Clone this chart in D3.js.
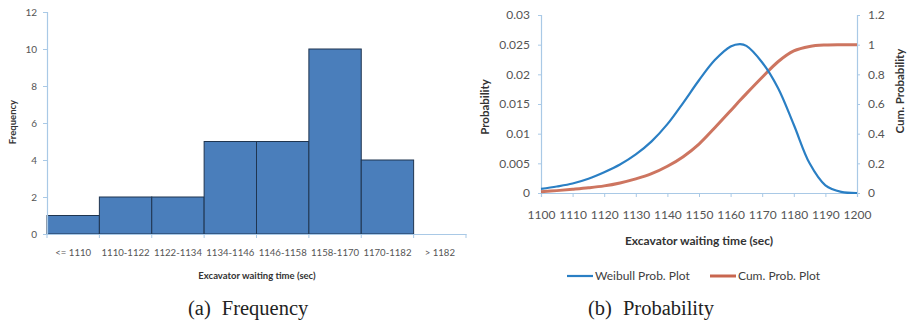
<!DOCTYPE html>
<html>
<head>
<meta charset="utf-8">
<script src="https://cdn.jsdelivr.net/npm/d3@7"></script>
<style>
  body { margin: 0; background: #fff; }
  svg { display: block; }
  .tick text { font-family: Lato, "Open Sans", sans-serif; fill: #555; }
</style>
</head>
<body>
<svg id="fig" width="907" height="322"></svg>
<script>
// (a) histogram data
const binLabels = ['<= 1110', '1110-1122', '1122-1134', '1134-1146', '1146-1158', '1158-1170', '1170-1182', '> 1182'];
const binFreq = [1, 2, 2, 5, 5, 10, 4, 0];
const freqTicks = [0, 2, 4, 6, 8, 10, 12];

// (b) probability curves, every 5 sec
const waitTime = [1100, 1105, 1110, 1115, 1120, 1125, 1130, 1135, 1140, 1145, 1150, 1155, 1160, 1163, 1165, 1170, 1175, 1180, 1185, 1190, 1195, 1200];
const weibullProb = [0.0007, 0.0011, 0.0016, 0.0024, 0.0035, 0.0048, 0.0065, 0.0087, 0.0116, 0.0152, 0.0190, 0.0224, 0.0247, 0.0251, 0.0248, 0.0220, 0.0177, 0.0115, 0.0050, 0.0013, 0.0002, 0.0000];
const cumProb = [0.009, 0.016, 0.025, 0.035, 0.048, 0.068, 0.095, 0.130, 0.180, 0.245, 0.330, 0.440, 0.555, 0.625, 0.670, 0.780, 0.885, 0.958, 0.988, 0.998, 1.000, 1.000];
const probTicks = [0, 0.005, 0.01, 0.015, 0.02, 0.025, 0.03];
const cumTicks = [0, 0.2, 0.4, 0.6, 0.8, 1, 1.2];
const timeTicks = [1100, 1110, 1120, 1130, 1140, 1150, 1160, 1170, 1180, 1190, 1200];

const svg = d3.select('#fig');
const axisCol = '#a9c9e6';
const font = 'Lato, "Open Sans", sans-serif';

function styleAxis(g) {
  g.select('.domain').attr('stroke', axisCol).attr('stroke-width', 1.2);
  g.selectAll('.tick line').attr('stroke', axisCol);
}

// ---------- (a) Frequency ----------
const xL = d3.scaleBand().domain(binLabels).range([47, 466]).padding(0);
const yL = d3.scaleLinear().domain([0, 12]).range([234, 12]);

svg.append('g').selectAll('rect').data(binLabels.map((b, i) => ({b, v: binFreq[i]})).filter(d => d.v > 0))
  .enter().append('rect')
  .attr('x', d => xL(d.b)).attr('width', xL.bandwidth())
  .attr('y', d => yL(d.v)).attr('height', d => yL(0) - yL(d.v))
  .attr('fill', '#4a7ebb').attr('stroke', '#1f3550').attr('stroke-width', 1);

const gyL = svg.append('g').attr('transform', 'translate(47,0)')
  .call(d3.axisLeft(yL).tickValues(freqTicks).tickSize(4).tickPadding(6));
gyL.selectAll('.tick text').attr('font-size', 10);
styleAxis(gyL);

const gxL = svg.append('g').attr('transform', 'translate(0,234)')
  .call(d3.axisBottom(xL).tickSize(0).tickPadding(15));
gxL.selectAll('.tick text').attr('font-size', 9.6);
styleAxis(gxL);
gxL.selectAll('.bound').data(binLabels.map(b => xL(b)).concat([xL.range()[1]]))
  .enter().append('line').attr('class', 'bound')
  .attr('x1', d => d).attr('x2', d => d).attr('y1', 0).attr('y2', 4)
  .attr('stroke', axisCol);

svg.append('text').attr('transform', 'translate(16,122) rotate(-90)')
  .attr('text-anchor', 'middle').attr('font-family', font).attr('font-weight', 'bold')
  .attr('font-size', 9.5).attr('fill', '#333').text('Frequency');
svg.append('text').attr('x', 257).attr('y', 279)
  .attr('text-anchor', 'middle').attr('font-family', font).attr('font-weight', 'bold')
  .attr('font-size', 9.5).attr('fill', '#333').text('Excavator waiting time (sec)');

// ---------- (b) Probability ----------
const xR = d3.scaleLinear().domain([1100, 1200]).range([541, 857]);
const yR = d3.scaleLinear().domain([0, 0.03]).range([193, 15]);
const yR2 = d3.scaleLinear().domain([0, 1.2]).range([193, 15]);

const gyR = svg.append('g').attr('transform', 'translate(541,0)')
  .call(d3.axisLeft(yR).tickValues(probTicks).tickSize(3).tickPadding(8).tickFormat(d => +d.toFixed(3)));
gyR.selectAll('.tick text').attr('font-size', 12);
styleAxis(gyR);

const gyR2 = svg.append('g').attr('transform', 'translate(857,0)')
  .call(d3.axisRight(yR2).tickValues(cumTicks).tickSize(3).tickPadding(8).tickFormat(d => +d.toFixed(1)));
gyR2.selectAll('.tick text').attr('font-size', 12);
styleAxis(gyR2);

const gxR = svg.append('g').attr('transform', 'translate(0,193)')
  .call(d3.axisBottom(xR).tickValues(timeTicks).tickSize(4).tickPadding(13).tickFormat(d3.format('d')));
gxR.selectAll('.tick text').attr('font-size', 12);
styleAxis(gxR);

const pts = waitTime.map((t, i) => ({t, p: weibullProb[i], c: cumProb[i]}));
const smooth = d3.curveCatmullRom.alpha(0.5);
svg.append('path').datum(pts)
  .attr('d', d3.line().x(d => xR(d.t)).y(d => yR2(d.c)).curve(smooth))
  .attr('fill', 'none').attr('stroke', '#c8664f').attr('stroke-width', 3).attr('stroke-opacity', 0.9);
svg.append('path').datum(pts)
  .attr('d', d3.line().x(d => xR(d.t)).y(d => yR(d.p)).curve(smooth))
  .attr('fill', 'none').attr('stroke', '#2a7fc4').attr('stroke-width', 2.2);

svg.append('text').attr('transform', 'translate(489,107) rotate(-90)')
  .attr('text-anchor', 'middle').attr('font-family', font).attr('font-weight', 'bold')
  .attr('font-size', 11.5).attr('fill', '#333').text('Probability');
svg.append('text').attr('transform', 'translate(904,91) rotate(-90)')
  .attr('text-anchor', 'middle').attr('font-family', font).attr('font-weight', 'bold')
  .attr('font-size', 11.5).attr('fill', '#333').text('Cum. Probability');
svg.append('text').attr('x', 699).attr('y', 245)
  .attr('text-anchor', 'middle').attr('font-family', font).attr('font-weight', 'bold')
  .attr('font-size', 12).attr('fill', '#333').text('Excavator waiting time (sec)');

// legend
const legend = [
  {name: 'Weibull Prob. Plot', color: '#2a7fc4', w: 2.2, x: 567},
  {name: 'Cum. Prob. Plot', color: '#c8664f', w: 3, x: 710}
];
const lg = svg.append('g').selectAll('g').data(legend).enter().append('g')
  .attr('transform', d => `translate(${d.x},276)`);
lg.append('line').attr('x1', 0).attr('x2', 26).attr('stroke', d => d.color).attr('stroke-width', d => d.w);
lg.append('text').attr('x', 28).attr('dy', '0.35em').attr('font-family', font)
  .attr('font-size', 12).attr('fill', '#404040').text(d => d.name);

// captions
const captions = [
  {tag: '(a)', name: 'Frequency', x: 188},
  {tag: '(b)', name: 'Probability', x: 588}
];
const cap = svg.append('g').selectAll('text').data(captions).enter().append('text')
  .attr('x', d => d.x).attr('y', 315)
  .attr('font-family', '"Liberation Serif", "Times New Roman", serif').attr('font-size', 20.5).attr('fill', '#222');
cap.append('tspan').text(d => d.tag);
cap.append('tspan').attr('dx', 11).text(d => d.name);
</script>
</body>
</html>
